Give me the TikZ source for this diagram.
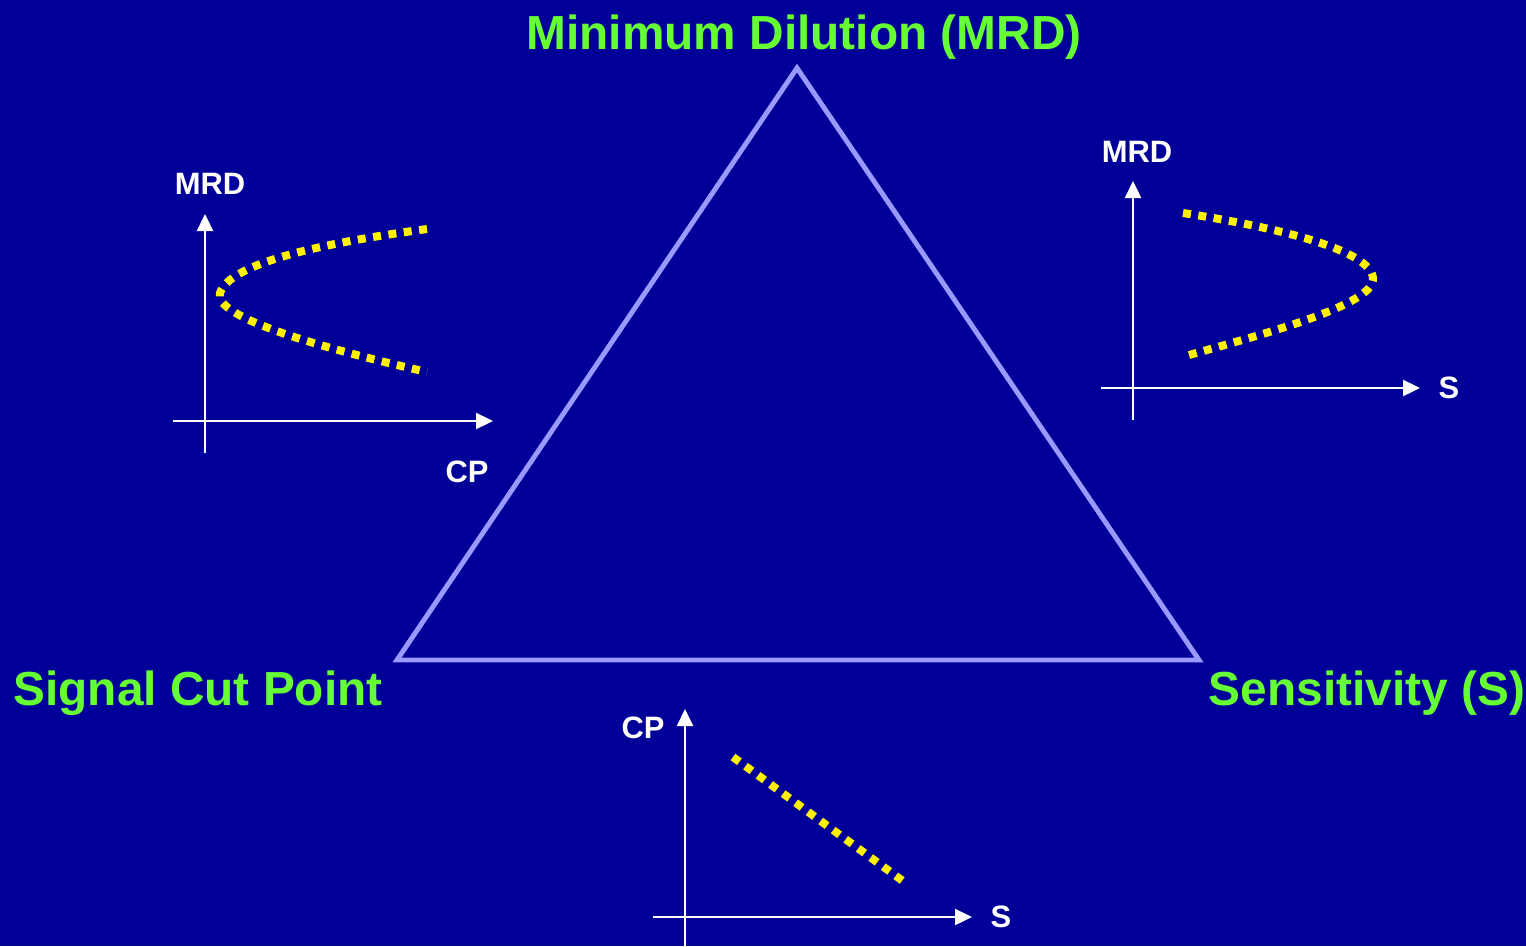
\documentclass[tikz,border=0pt]{standalone}
\usepackage{fontspec}
\setmainfont{Liberation Sans}
\usetikzlibrary{arrows.meta,positioning}

\definecolor{slidebg}{RGB}{0,0,153}
\definecolor{cornergreen}{RGB}{102,255,51}
\definecolor{edgelilac}{RGB}{153,153,255}

\begin{document}
\begin{tikzpicture}[
  x=0.1mm, y=-0.1mm,
  corner/.style={font=\fontsize{13.6}{16}\selectfont\bfseries, text=cornergreen, inner sep=0pt},
  axlabel/.style={font=\fontsize{8.8}{10}\selectfont\bfseries, text=white, inner sep=0pt},
  axis/.style={white, line width=0.65pt, -{Triangle[length=1.7mm,width=1.6mm]}},
  trend/.style={yellow, line width=0.8mm, dash pattern=on 0.8mm off 0.75mm},
  edge/.style={edgelilac, line width=1.4pt, line join=miter}
]
\fill[slidebg] (0,0) rectangle (1526,946);
\useasboundingbox (0,0) rectangle (1526,946);

% the big triangle
\coordinate (apex) at (797,68);
\coordinate (bl)   at (397,660);
\coordinate (br)   at (1199,660);
\draw[edge] (apex) -- (br) -- (bl) -- cycle;

\node[corner] (mrdt)  at (804,37)  {Minimum Dilution (MRD)};
\node[corner] (cutt)  at (198,693) {Signal Cut Point};
\node[corner] (senst) at (1367,693) {Sensitivity (S)};

% left plot: MRD against CP
\coordinate (l-yb) at (205,453);
\coordinate (l-yt) at (205,214);
\coordinate (l-xl) at (173,421);
\coordinate (l-xr) at (493,421);
\draw[axis] (l-yb) -- (l-yt);
\draw[axis] (l-xl) -- (l-xr);
\node[axlabel] (l-mrd) at (210,184) {MRD};
\node[axlabel] (l-cp)  at (467,472) {CP};
\draw[trend] (427,229) .. controls (330,242) and (230,262) .. (220,293)
             .. controls (212,318) and (330,350) .. (427,372);

% right plot: MRD against S
\coordinate (r-yb) at (1133,420);
\coordinate (r-yt) at (1133,181);
\coordinate (r-xl) at (1101,388);
\coordinate (r-xr) at (1420,388);
\draw[axis] (r-yb) -- (r-yt);
\draw[axis] (r-xl) -- (r-xr);
\node[axlabel] (r-mrd) at (1137,152) {MRD};
\node[axlabel, right=1.8mm of r-xr] (r-s) {S};
\draw[trend] (1183,213) .. controls (1280,228) and (1370,250) .. (1373,278)
             .. controls (1376,305) and (1260,335) .. (1182,357);

% bottom plot: CP against S
\coordinate (b-yb) at (685,946);
\coordinate (b-yt) at (685,709);
\coordinate (b-xl) at (653,917);
\coordinate (b-xr) at (972,917);
\draw[axis] (b-yb) -- (b-yt);
\draw[axis] (b-xl) -- (b-xr);
\node[axlabel] (b-cp) at (643,728) {CP};
\node[axlabel, right=1.8mm of b-xr] (b-s) {S};
\coordinate (b-from) at (733,757);
\coordinate (b-to)   at (907,884);
\draw[trend] (b-from) -- (b-to);

\end{tikzpicture}
\end{document}
